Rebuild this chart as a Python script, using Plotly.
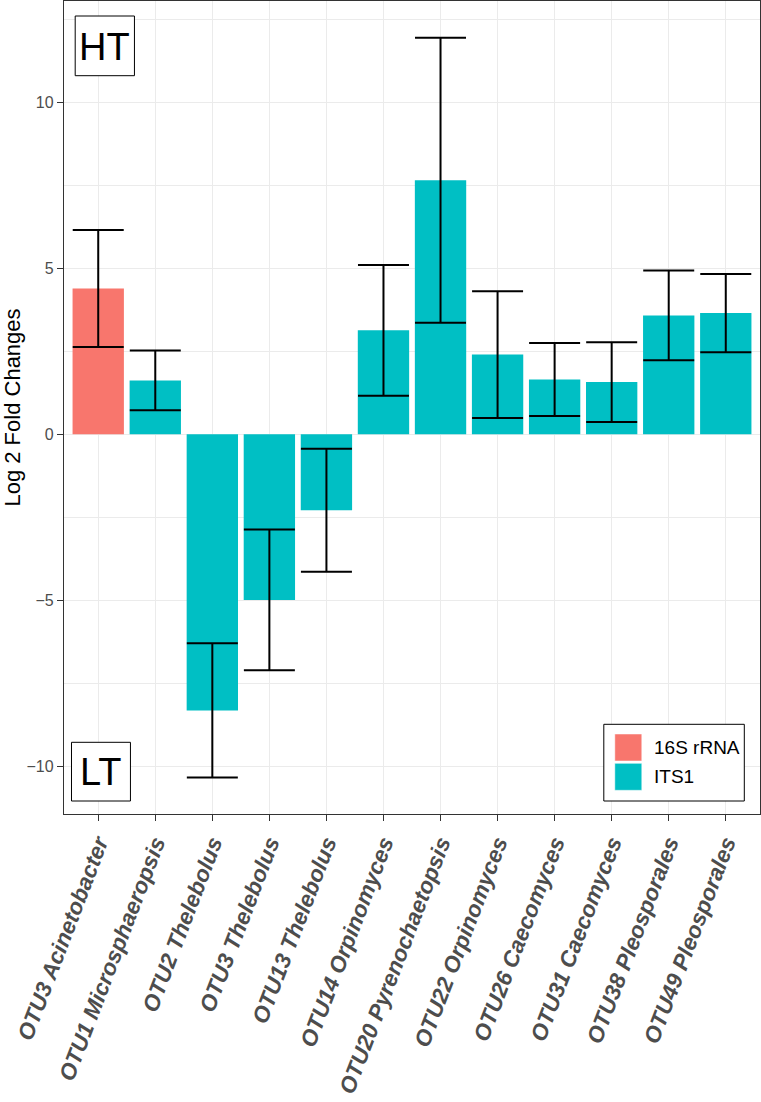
import plotly.graph_objects as go

# ---------------- data ----------------
categories = [
    "OTU3 Acinetobacter", "OTU1 Microsphaeropsis", "OTU2 Thelebolus",
    "OTU3 Thelebolus", "OTU13 Thelebolus", "OTU14 Orpinomyces",
    "OTU20 Pyrenochaetopsis", "OTU22 Orpinomyces", "OTU26 Caecomyces",
    "OTU31 Caecomyces", "OTU38 Pleosporales", "OTU49 Pleosporales",
]
log2fc = [4.39, 1.62, -8.32, -4.99, -2.29, 3.13, 7.65, 2.40, 1.65, 1.57, 3.58, 3.65]
se = [1.76, 0.90, 2.02, 2.12, 1.85, 1.97, 4.29, 1.91, 1.10, 1.20, 1.35, 1.18]
marker_type = ["16S rRNA"] + ["ITS1"] * 11
series_names = ["16S rRNA", "ITS1"]
series_colors = {"16S rRNA": "#F8766D", "ITS1": "#00BFC4"}
y_ticks = [-10, -5, 0, 5, 10]

# ---------------- layout geometry (pixels) ----------------
W, H = 761, 1102
PL, PR, PT, PB = 63.5, 760.0, 1.0, 814.0  # plot panel edges


def px2paper_x(px):
    return (px - PL) / (PR - PL)


def px2paper_y(py):
    return (PB - py) / (PB - PT)


FONT = "Liberation Sans, Arial, Helvetica, sans-serif"

fig = go.Figure()
for name in series_names:
    xs = [c for c, g in zip(categories, marker_type) if g == name]
    ys = [v for v, g in zip(log2fc, marker_type) if g == name]
    es = [e for e, g in zip(se, marker_type) if g == name]
    fig.add_trace(go.Bar(
        x=xs, y=ys, name=name, width=0.9,
        marker=dict(color=series_colors[name], line=dict(width=0)),
        error_y=dict(type="data", array=es, visible=True, color="black",
                     thickness=2, width=25.5),
        showlegend=False,
    ))

shapes = []
annotations = []

# HT / LT labels (boxed)
for label, box, center in [
    ("HT", (74.7, 16.0, 134.0, 75.7), (104.3, 46.5)),
    ("LT", (71.0, 742.3, 130.0, 801.0), (100.5, 772.0)),
]:
    x0, y0, x1, y1 = box
    shapes.append(dict(type="rect", xref="paper", yref="paper",
                       x0=px2paper_x(x0), x1=px2paper_x(x1),
                       y0=px2paper_y(y1), y1=px2paper_y(y0),
                       line=dict(color="black", width=1), fillcolor="white",
                       layer="above"))
    annotations.append(dict(text=label, xref="paper", yref="paper",
                            x=px2paper_x(center[0]), y=px2paper_y(center[1]),
                            xanchor="center", yanchor="middle", showarrow=False,
                            font=dict(family=FONT, size=38, color="black")))

# custom legend (ggplot style)
shapes.append(dict(type="rect", xref="paper", yref="paper",
                   x0=px2paper_x(603.7), x1=px2paper_x(744.3),
                   y0=px2paper_y(801.0), y1=px2paper_y(724.3),
                   line=dict(color="black", width=1), fillcolor="white",
                   layer="above"))
key_tops = [734.0, 763.3]
for name, top in zip(series_names, key_tops):
    shapes.append(dict(type="rect", xref="paper", yref="paper",
                       x0=px2paper_x(614.7), x1=px2paper_x(641.7),
                       y0=px2paper_y(top + 27.0), y1=px2paper_y(top),
                       line=dict(color="white", width=0.5),
                       fillcolor=series_colors[name], layer="above"))
    annotations.append(dict(text=name, xref="paper", yref="paper",
                            x=px2paper_x(652.0), y=px2paper_y(top + 13.5),
                            xanchor="left", yanchor="middle", showarrow=False,
                            font=dict(family=FONT, size=19, color="black")))

fig.update_layout(
    width=W, height=H,
    margin=dict(l=PL, r=W - PR, t=PT, b=H - PB, autoexpand=False),
    paper_bgcolor="white", plot_bgcolor="white",
    barmode="overlay", bargap=0.1,
    shapes=shapes, annotations=annotations,
    font=dict(family=FONT),
)

fig.update_xaxes(
    type="category", categoryorder="array", categoryarray=categories,
    range=[-0.6, len(categories) - 0.4],
    showgrid=True, gridcolor="#EBEBEB", gridwidth=1.2,
    showline=True, linecolor="#333333", linewidth=1.3, mirror=True,
    ticks="outside", ticklen=6, tickwidth=1.1, tickcolor="#333333",
    tickangle=-69,
    tickfont=dict(family=FONT, size=22.5, color="#4D4D4D", weight="bold", style="italic"),
)

fig.update_yaxes(
    range=[-11.44, 13.05],
    tickvals=y_ticks, ticktext=[str(v) if v >= 0 else "\u2212" + str(-v) for v in y_ticks],
    showgrid=True, gridcolor="#EBEBEB", gridwidth=1.2, zeroline=False,
    minor=dict(tick0=0, dtick=2.5, showgrid=True, gridcolor="#EBEBEB", gridwidth=0.7, ticks=""),
    showline=True, linecolor="#333333", linewidth=1.3, mirror=True,
    ticks="outside", ticklen=6, tickwidth=1.1, tickcolor="#333333",
    tickfont=dict(family=FONT, size=16, color="#4D4D4D"),
    ticklabelstandoff=0,
    title=dict(text="Log 2 Fold Changes", font=dict(family=FONT, size=22, color="black"),
               standoff=4),
)

fig.write_html("out.html", config={"displayModeBar": False},
               post_script="document.body.style.margin='0px';document.body.style.overflow='hidden';")
